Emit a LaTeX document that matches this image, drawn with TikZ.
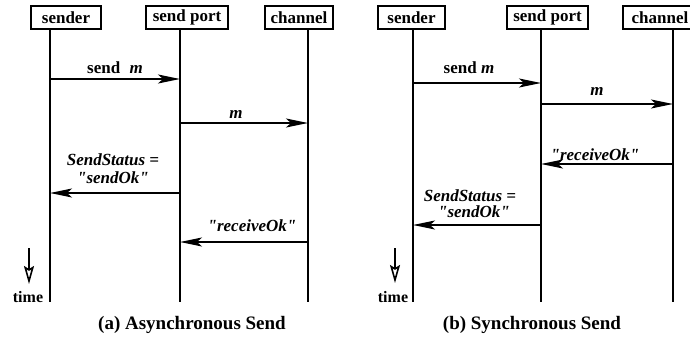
\documentclass[tikz,border=0pt]{standalone}
\usepackage{fontspec}
\setmainfont{Liberation Serif}[Ligatures=TeXOff]
\usetikzlibrary{arrows.meta}
\begin{document}
\begin{tikzpicture}[x=1pt,y=-1pt,
  obj/.style={draw, line width=1.6pt, minimum height=23pt, inner sep=0pt,
    font=\fontsize{17}{17}\selectfont\bfseries, anchor=center},
  life/.style={line width=1.8pt},
  msg/.style={line width=1.8pt, -{Stealth[length=22pt,width=9pt,inset=5pt]}},
  lab/.style={font=\fontsize{17}{17}\selectfont\bfseries\itshape, anchor=base, inner sep=0pt},
  timearr/.style={line width=1.6pt, -{Stealth[open,length=18pt,width=10pt,inset=3pt]}},
  timelab/.style={font=\fontsize{16}{16}\selectfont\bfseries, anchor=base, inner sep=0pt},
  captext/.style={font=\fontsize{19}{19}\selectfont\bfseries, anchor=base, inner sep=0pt}]
\useasboundingbox (0,0) rectangle (690,337);

% ---------- panel (a) ----------
\node[obj, minimum width=70pt] (sa) at (66,17.5) {sender};
\node[obj, minimum width=82pt] (pa) at (187,17.5) {send port};
\node[obj, minimum width=68pt] (ca) at (299,17.5) {channel};
\coordinate (la) at (50,302);
\coordinate (lpa) at (180,302);
\coordinate (lca) at (308,302);
\draw[life] (sa.south -| la) -- (la);
\draw[life] (pa.south -| lpa) -- (lpa);
\draw[life] (ca.south -| lca) -- (lca);

\coordinate (a1s) at (50,79);  \coordinate (a1e) at (180,79);
\coordinate (a2s) at (180,123); \coordinate (a2e) at (308,123);
\coordinate (a3s) at (180,193); \coordinate (a3e) at (50,193);
\coordinate (a4s) at (308,242); \coordinate (a4e) at (180,242);
\draw[msg] (a1s) -- (a1e);
\draw[msg] (a2s) -- (a2e);
\draw[msg] (a3s) -- (a3e);
\draw[msg] (a4s) -- (a4e);
\node[lab] (a1l) at (115,74) {{\upshape send}\hspace{0.55em}m};
\node[lab] (a2l) at (236,118) {m};
\node[lab] (a3l) at (113,165) {SendStatus =};
\node[lab] (a3m) at (113,183) {"sendOk"};
\node[lab] (a4l) at (252,231) {"receiveOk"};

\coordinate (ta1) at (29,248); \coordinate (ta2) at (29,284);
\draw[timearr] (ta1) -- (ta2);
\node[timelab] (tla) at (28,302) {time};
\node[captext] (capa) at (192,329) {(a) Asynchronous Send};

% ---------- panel (b) ----------
\node[obj, minimum width=67pt] (sb) at (411.5,17.5) {sender};
\node[obj, minimum width=81pt] (pb) at (547.5,17.5) {send port};
\node[obj, minimum width=74pt] (cb) at (660,17.5) {channel};
\coordinate (lb) at (413,302);
\coordinate (lpb) at (541,302);
\coordinate (lcb) at (673,302);
\draw[life] (sb.south -| lb) -- (lb);
\draw[life] (pb.south -| lpb) -- (lpb);
\draw[life] (cb.south -| lcb) -- (lcb);

\coordinate (b1s) at (413,83);  \coordinate (b1e) at (541,83);
\coordinate (b2s) at (541,104); \coordinate (b2e) at (673,104);
\coordinate (b3s) at (673,164); \coordinate (b3e) at (541,164);
\coordinate (b4s) at (541,225); \coordinate (b4e) at (413,225);
\draw[msg] (b1s) -- (b1e);
\draw[msg] (b2s) -- (b2e);
\draw[msg] (b3s) -- (b3e);
\draw[msg] (b4s) -- (b4e);
\node[lab] (b1l) at (469,74) {{\upshape send} m};
\node[lab] (b2l) at (597,95) {m};
\node[lab] (b3l) at (595,160) {"receiveOk"};
\node[lab] (b4l) at (470,201) {SendStatus =};
\node[lab] (b4m) at (474,217) {"sendOk"};

\coordinate (tb1) at (395,248); \coordinate (tb2) at (395,283);
\draw[timearr] (tb1) -- (tb2);
\node[timelab] (tlb) at (393,302) {time};
\node[captext] (capb) at (532,329) {(b) Synchronous Send};
\end{tikzpicture}
\end{document}
